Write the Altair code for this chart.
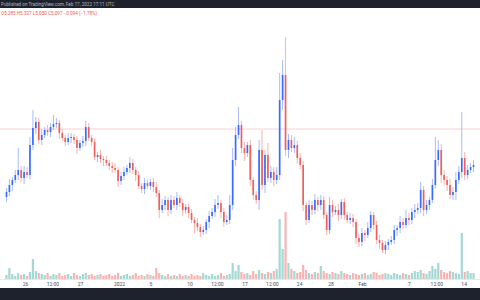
import altair as alt
import pandas as pd

# Closing prices per candle (arbitrary price units)
closes = [108,115,120,125,130,122,128,125,155,172,
          178,160,165,170,168,173,176,177,167,162,
          158,162,163,160,152,157,159,173,162,158,
          143,145,141,140,137,134,132,130,119,124,
          128,132,137,130,125,114,111,117,114,118,
          113,107,90,95,100,90,100,95,102,97,
          90,93,87,80,77,73,68,70,78,84,
          88,95,97,88,78,80,95,140,165,175,
          152,147,155,120,105,100,150,115,145,122,
          128,120,125,200,225,150,160,152,155,142,
          135,95,80,95,90,100,95,100,85,70,
          95,88,90,85,98,85,80,82,78,62,
          58,67,65,72,85,75,60,57,50,55,
          58,60,70,72,78,75,82,80,88,90,
          92,110,90,95,100,115,140,150,125,120,
          115,105,108,120,128,142,125,130,133,135]
first_open = 103

hi_ext = [4,6,3,5,22,4,6,5,8,18,
          5,4,6,3,5,4,9,5,3,4,
          3,5,4,3,4,3,5,6,4,3,
          4,3,5,3,4,3,4,5,3,4,
          5,3,6,4,3,4,3,5,4,3,
          4,5,3,6,4,3,5,4,6,3,
          4,3,3,4,3,5,3,4,3,5,
          4,6,8,3,4,5,10,12,8,18,
          4,6,3,5,3,4,10,20,5,12,
          6,5,8,27,15,38,6,5,8,4,
          5,4,3,5,4,6,3,5,4,3,
          8,5,4,6,3,4,3,5,4,3,
          4,5,3,6,4,3,4,5,3,4,
          3,4,5,3,6,4,8,5,4,6,
          5,8,4,5,3,6,23,10,6,5,
          4,6,5,8,6,46,6,5,4,5]

lo_ext = [5,4,6,3,5,4,6,3,4,5,
          6,4,5,3,4,5,3,4,6,3,
          4,3,5,4,6,3,4,5,3,4,
          3,5,4,6,3,4,5,3,6,4,
          4,3,5,4,6,3,4,5,3,4,
          5,4,8,3,5,6,4,3,5,4,
          6,4,5,3,10,4,5,3,4,6,
          3,5,4,6,5,3,4,5,6,4,
          5,8,4,6,5,4,10,5,8,4,
          5,6,4,5,10,6,8,4,5,6,
          4,6,5,3,5,4,6,5,4,5,
          4,5,3,6,4,5,3,4,5,6,
          5,4,6,3,4,5,4,6,3,4,
          5,3,4,6,5,4,3,5,4,6,
          4,5,6,4,5,3,4,6,8,5,
          6,4,5,8,4,6,5,4,3,5]

volume = [4,11,5,3,6,4,5,3,7,20,
          8,6,5,4,6,3,5,4,6,3,
          4,5,3,6,4,3,5,6,4,5,
          3,4,5,3,4,5,3,4,6,3,
          4,5,3,4,6,3,4,3,5,4,
          3,11,6,4,3,5,3,4,3,5,
          3,4,3,5,3,4,3,6,4,3,
          5,3,4,6,3,4,5,16,8,14,
          7,5,6,4,8,5,9,6,5,7,
          6,8,10,60,30,67,16,10,8,6,
          7,14,9,6,5,7,6,13,8,6,
          5,7,6,5,8,6,5,4,6,5,
          4,5,6,4,5,7,6,4,5,6,
          5,4,6,5,4,6,5,4,6,8,
          7,9,6,5,8,13,10,16,9,7,
          6,8,7,6,5,46,7,8,6,6]

tick_labels = ["26", "12:00", "27", "2022", "5", "10", "12:00", "17",
               "12:00", "24", "28", "Feb", "7", "12:00", "14"]
tick_pos = [6.5, 15.8, 25.2, 38.5, 49.2, 62.5, 71.8, 81.2,
            90.5, 99.8, 110.5, 121.2, 137.2, 146.5, 155.8]

last_price = 171

header_text = "Published on TradingView.com, Feb 17, 2022 17:11 UTC"
ohlc_text = "O5.285 H5.327 L5.050 C5.097 \u22120.094 (\u22121.78%)"

rows = []
prev = first_open
for i, c in enumerate(closes):
    o = prev
    rows.append({
        "t": i, "open": o, "close": c,
        "high": max(o, c) + hi_ext[i], "low": min(o, c) - lo_ext[i],
        "vol": volume[i], "dir": "up" if c >= o else "down",
    })
    prev = c
df = pd.DataFrame(rows)

W, H = 480, 300
xs = alt.Scale(domain=[-0.5, 159.5])
ys = alt.Scale(domain=[0, 300])
dcol = alt.Scale(domain=["up", "down"], range=["#2962ff", "#ef5350"])
wcol = alt.Scale(domain=["up", "down"], range=["#a9bbfb", "#f7b3b1"])
vcol = alt.Scale(domain=["up", "down"], range=["#a3d8d3", "#f8b4b2"])

base = alt.Chart(df)

vol_bars = base.mark_bar(size=2.2).encode(
    x=alt.X("t:Q", scale=xs, axis=None),
    y=alt.Y("vol:Q", scale=alt.Scale(domain=[0, 279], range=[279, 0]), axis=None),
    color=alt.Color("dir:N", scale=vcol, legend=None),
)

price_line = alt.Chart(pd.DataFrame({"p": [last_price]})).mark_rule(
    color="#f6d0d0", strokeWidth=1
).encode(y=alt.Y("p:Q", scale=ys, axis=None))

wicks = base.mark_rule(strokeWidth=1).encode(
    x=alt.X("t:Q", scale=xs, axis=None),
    y=alt.Y("low:Q", scale=ys, axis=None),
    y2="high:Q",
    color=alt.Color("dir:N", scale=wcol, legend=None),
)

bodies = base.mark_bar(size=1.7, opacity=0.9).encode(
    x=alt.X("t:Q", scale=xs, axis=None),
    y=alt.Y("open:Q", scale=ys, axis=None),
    y2="close:Q",
    color=alt.Color("dir:N", scale=dcol, legend=None),
)

one = pd.DataFrame({"k": [0]})
top_bar = alt.Chart(one).mark_rect(color="#1e222d").encode(
    x=alt.value(0), x2=alt.value(W), y=alt.value(0), y2=alt.value(8)
)
bottom_bar = alt.Chart(one).mark_rect(color="#1e222d").encode(
    x=alt.value(0), x2=alt.value(W), y=alt.value(288), y2=alt.value(H)
)
header = alt.Chart(pd.DataFrame({"s": [header_text]})).mark_text(
    align="left", baseline="middle", fontSize=4.6, font="Roboto", color="#b2b5be"
).encode(x=alt.value(1), y=alt.value(4.5), text="s:N")
ohlc = alt.Chart(pd.DataFrame({"s": [ohlc_text]})).mark_text(
    align="left", baseline="middle", fontSize=4.6, font="Roboto", color="#ef5350"
).encode(x=alt.value(1), y=alt.value(13.5), text="s:N")

axis_line = alt.Chart(one).mark_rule(color="#e6e8ee").encode(
    x=alt.value(0), x2=alt.value(W), y=alt.value(279.5)
)
labels = alt.Chart(pd.DataFrame({"lab": tick_labels, "pos": tick_pos})).mark_text(
    baseline="middle", fontSize=5, font="Roboto", color="#4a4e59"
).encode(
    x=alt.X("pos:Q", scale=xs, axis=None),
    y=alt.value(283.5),
    text="lab:N",
)

chart = alt.layer(
    vol_bars, price_line, wicks, bodies, axis_line, labels,
    top_bar, bottom_bar, header, ohlc
).resolve_scale(y="independent", color="independent").properties(
    width=W, height=H, padding=0, autosize=alt.AutoSizeParams(type="none"),
    background="white",
).configure_view(stroke=None)

chart.save("out.html", embed_options={"renderer": "svg", "actions": False})
